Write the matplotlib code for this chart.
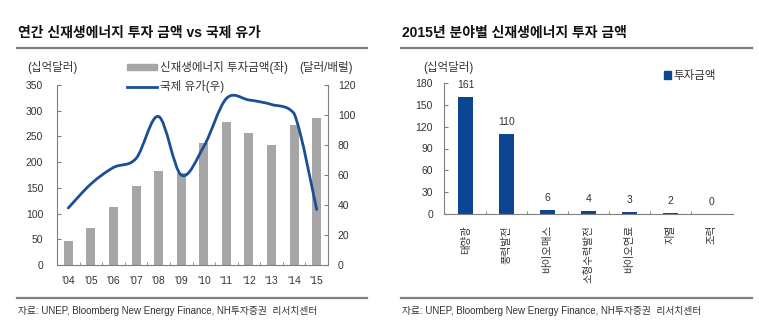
import matplotlib
matplotlib.use('Agg')
import numpy as np
import matplotlib.pyplot as plt
from matplotlib.path import Path
from matplotlib.patches import PathPatch, Patch
from matplotlib.lines import Line2D

plt.rcParams['font.family'] = ['Liberation Sans', 'Noto Sans CJK KR', 'DejaVu Sans']

# left chart data
years = ["'04", "'05", "'06", "'07", "'08", "'09", "'10", "'11", "'12", "'13", "'14", "'15"]
invest = [47, 72, 112, 154, 183, 179, 238, 278, 257, 234, 272, 286]
oil = [38, 54, 65, 71, 99, 60, 79, 111, 110, 107, 101, 37]

# right chart data
sectors = ['태양광', '풍력발전', '바이오매스', '소형수력발전', '바이오연료', '지열', '조력']
sector_invest = [161, 110, 6, 4, 3, 2, 0]

GRAY = '#a6a6a6'
BLUE = '#1b4f95'
NAVY = '#0d4595'
SPINE = '#7f7f7f'
TXT = '#333333'
FS = 7.5
KFS = 8.3

fig = plt.figure(figsize=(7.59, 3.36), dpi=100)
W, H = 759, 336


def fx(px):
    return px / W


def fy(py):
    return 1 - py / H


def style(ax):
    for s in ax.spines.values():
        s.set_color(SPINE)
        s.set_linewidth(0.8)
    ax.spines['top'].set_visible(False)
    ax.tick_params(colors=SPINE, labelcolor=TXT, labelsize=FS, direction='in', length=3)


# ---- left chart ----
ax1 = fig.add_axes([fx(57), fy(265), fx(328) - fx(57), fy(85) - fy(265)])
x = np.arange(len(years))
ax1.bar(x, invest, width=0.4, color=GRAY, zorder=1)
ax1.set_xlim(-0.5, len(years) - 0.5)
ax1.set_ylim(0, 350)
ax1.set_yticks(range(0, 351, 50))
ax1.set_xticks(x)
ax1.set_xticklabels(years)
ax1.set_xticks(np.arange(0.5, len(years) - 1, 1), minor=True)
style(ax1)
ax1.tick_params(axis='x', which='major', length=0, pad=8)
ax1.tick_params(axis='x', which='minor', direction='in', length=2, colors=SPINE)
ax1.tick_params(axis='y', pad=10)
ax1.spines['right'].set_visible(False)

ax2 = ax1.twinx()
ax2.set_ylim(0, 120)
ax2.set_yticks(range(0, 121, 20))
style(ax2)
ax2.spines['left'].set_visible(False)
ax2.spines['bottom'].set_visible(False)
ax2.tick_params(axis='y', pad=7)

# smoothed line: Catmull-Rom bezier, no overshoot at non-extreme points
pts = np.column_stack([x, oil]).astype(float)
n = len(pts)
ext = np.vstack([pts[0], pts, pts[-1]])


def is_extreme(i):
    if i == 0 or i == n - 1:
        return False
    return (oil[i] - oil[i - 1]) * (oil[i + 1] - oil[i]) < 0


verts = [tuple(pts[0])]
codes = [Path.MOVETO]
for i in range(n - 1):
    p0, p1, p2, p3 = ext[i], ext[i + 1], ext[i + 2], ext[i + 3]
    c1 = p1 + (p2 - p0) / 6
    c2 = p2 - (p3 - p1) / 6
    lo, hi = min(p1[1], p2[1]), max(p1[1], p2[1])
    if not is_extreme(i):
        c1[1] = np.clip(c1[1], lo, hi)
    if not is_extreme(i + 1):
        c2[1] = np.clip(c2[1], lo, hi)
    verts += [tuple(c1), tuple(c2), tuple(p2)]
    codes += [Path.CURVE4] * 3
ax2.add_patch(PathPatch(Path(verts, codes), fill=False, edgecolor=BLUE, lw=2.0,
                        transform=ax2.transData, zorder=3, capstyle='round'))

fig.text(fx(27), fy(68), '(십억달러)', fontsize=KFS, color=TXT, va='center')
fig.text(fx(299), fy(68), '(달러/배럴)', fontsize=KFS, color=TXT, va='center')
fig.legend(handles=[Patch(color=GRAY), Line2D([], [], color=BLUE, lw=2.0)],
           labels=['신재생에너지 투자금액(좌)', '국제 유가(우)'],
           loc='upper left', bbox_to_anchor=(fx(127), fy(61)), frameon=False,
           fontsize=KFS, handlelength=2.6, handleheight=0.5, handletextpad=0.25,
           labelspacing=0.55, borderaxespad=0, borderpad=0, labelcolor=TXT)

# ---- right chart ----
ax3 = fig.add_axes([fx(444), fy(214), fx(733) - fx(444), fy(83) - fy(214)])
xs = np.arange(len(sectors))
bars = ax3.bar(xs, sector_invest, width=0.38, color=NAVY)
ax3.set_xlim(-0.53, len(sectors) - 0.47)
ax3.set_ylim(0, 180)
ax3.set_yticks(range(0, 181, 30))
ax3.set_xticks(xs)
ax3.set_xticklabels(sectors, rotation=90, va='top')
ax3.set_xticks(np.arange(0.5, len(sectors) - 0.5, 1), minor=True)
style(ax3)
ax3.spines['right'].set_visible(False)
ax3.tick_params(axis='x', which='major', length=0, pad=8)
ax3.tick_params(axis='x', which='minor', direction='in', length=2, colors=SPINE)
ax3.tick_params(axis='y', pad=8)
for b, v in zip(bars, sector_invest):
    ax3.annotate(str(v), (b.get_x() + b.get_width() / 2, v), xytext=(0, 5),
                 textcoords='offset points', ha='center', va='bottom',
                 fontsize=FS, color=TXT)

fig.text(fx(423), fy(68), '(십억달러)', fontsize=KFS, color=TXT, va='center')
fig.legend(handles=[Patch(color=NAVY)], labels=['투자금액'],
           loc='upper left', bbox_to_anchor=(fx(664), fy(70)), frameon=False,
           fontsize=KFS, handlelength=0.65, handleheight=0.65, handletextpad=0.2,
           borderaxespad=0, borderpad=0, labelcolor=TXT)

# ---- titles, rules, sources ----
for x0, x1, title in [(17, 367, '연간 신재생에너지 투자 금액 vs 국제 유가'),
                      (401, 752, '2015년 분야별 신재생에너지 투자 금액')]:
    fig.text(fx(x0 + 1), fy(33), title, fontsize=10, fontweight='bold', color='#111111', va='center')
    fig.add_artist(Line2D([fx(x0), fx(x1)], [fy(48), fy(48)], color=SPINE, lw=1.6))
    fig.add_artist(Line2D([fx(x0), fx(x1)], [fy(298), fy(298)], color=SPINE, lw=1.6))
    fig.text(fx(x0 + 1), fy(311), '자료: UNEP, Bloomberg New Energy Finance, NH투자증권  리서치센터',
             fontsize=7, color=TXT, va='center')

fig.savefig('out.png', dpi=100)
